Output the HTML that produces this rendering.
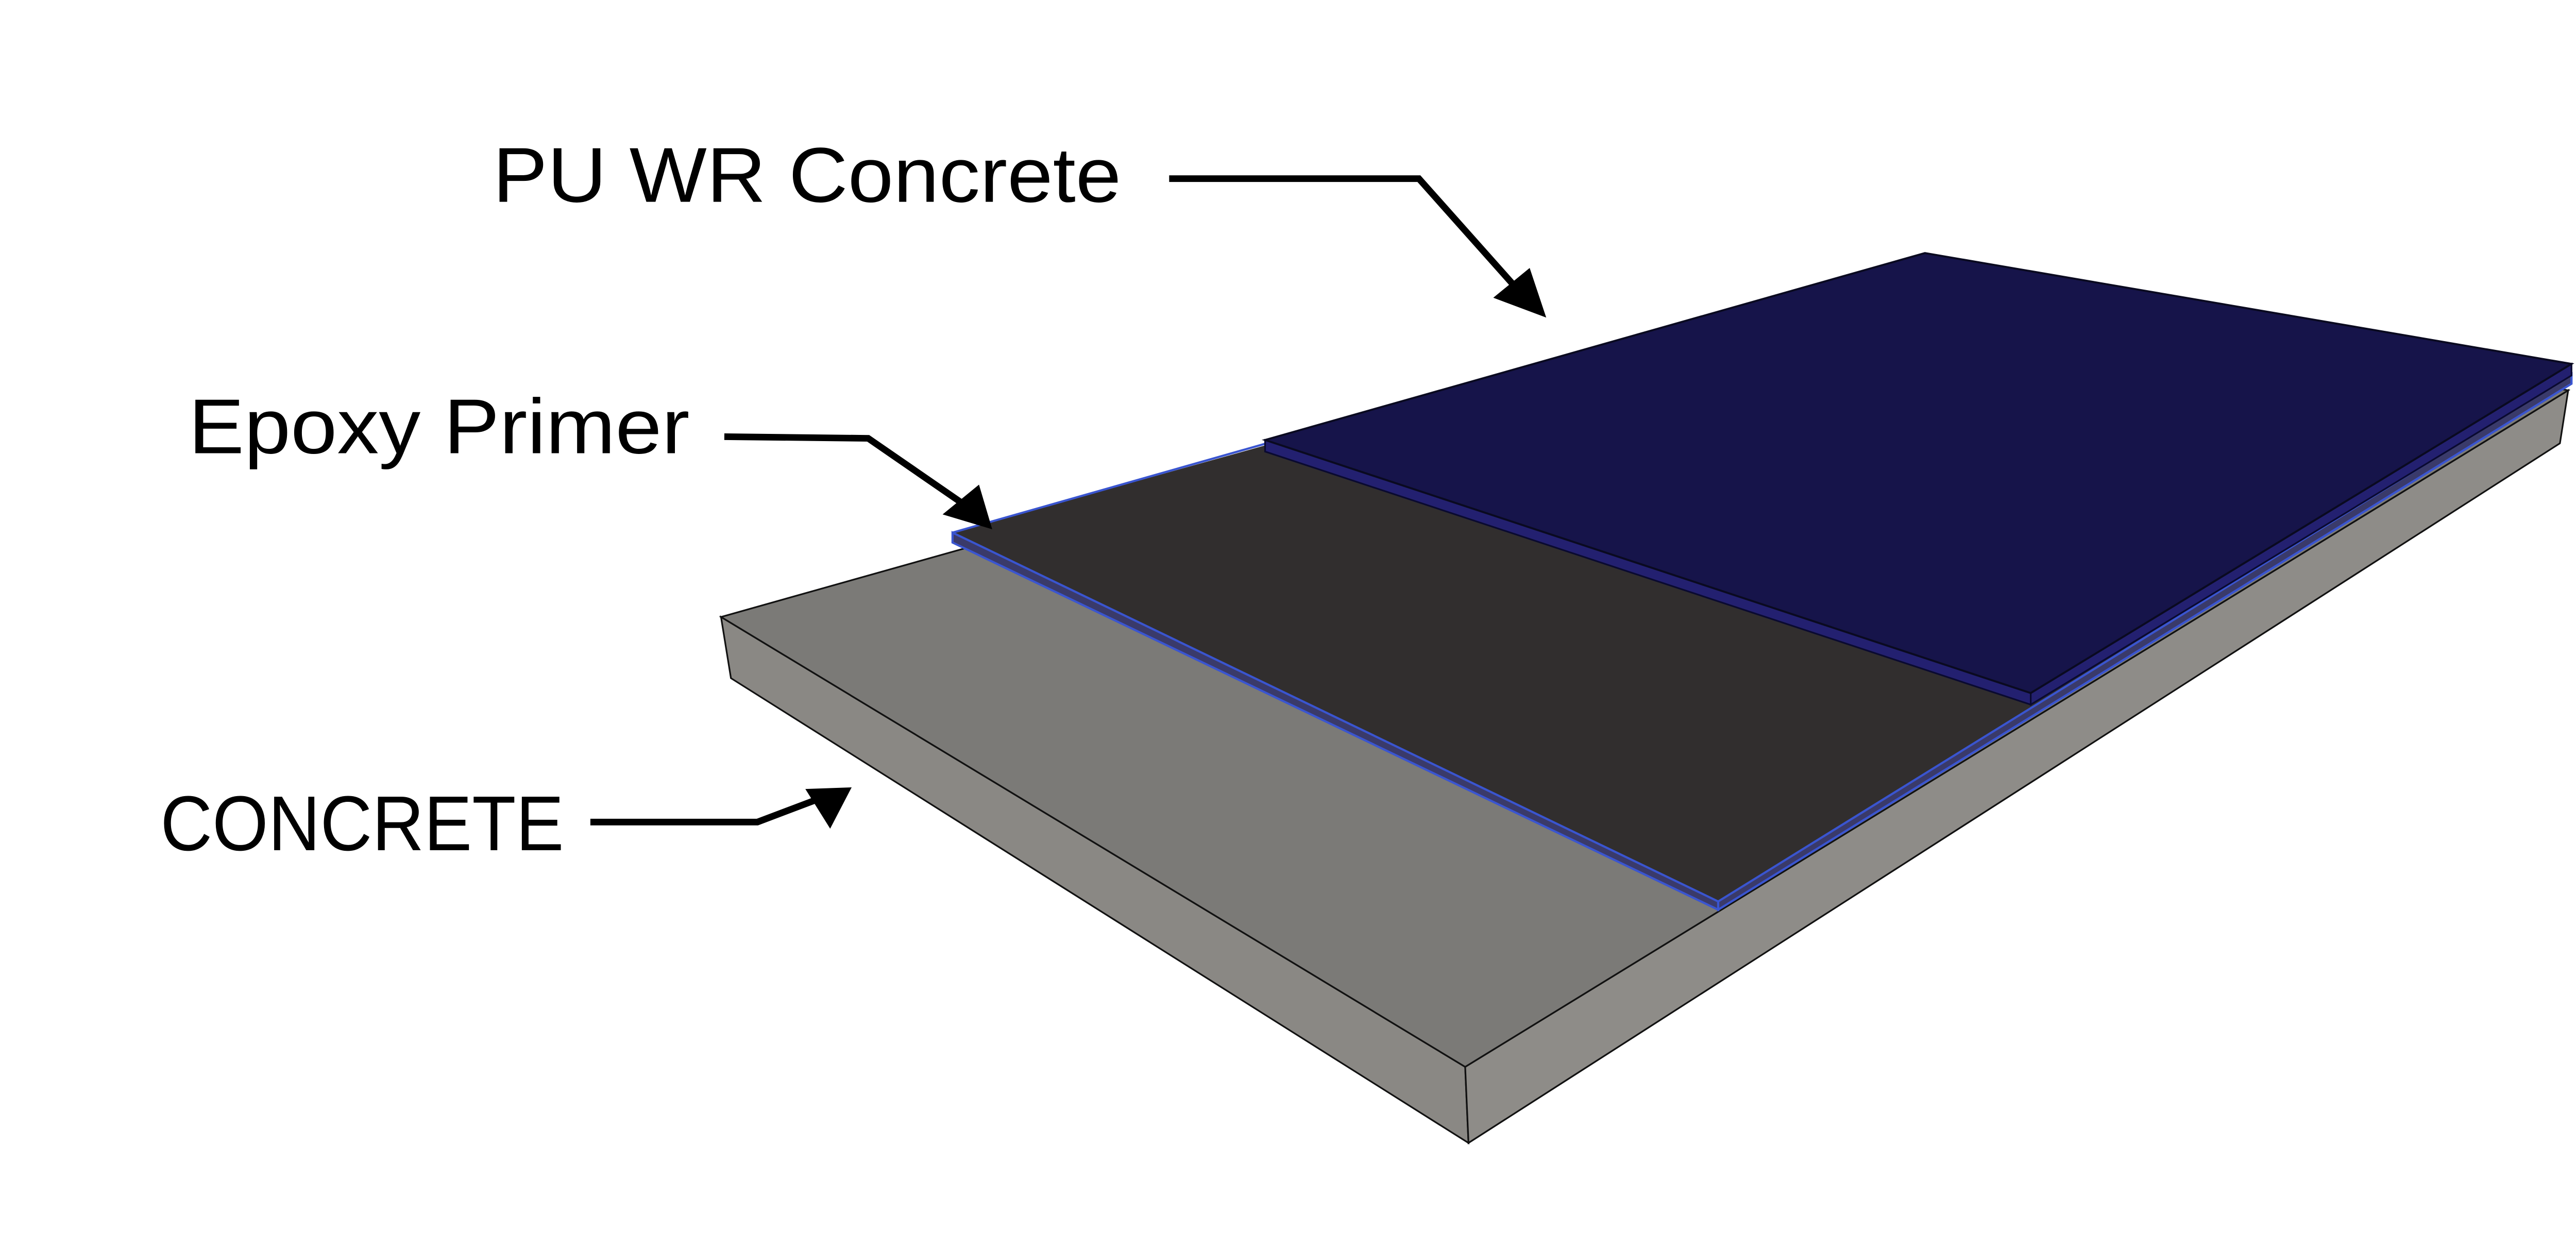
<!DOCTYPE html>
<html><head><meta charset="utf-8"><style>
html,body{margin:0;padding:0;background:#fff;}
svg{display:block;}
</style></head><body>
<svg width="5033" height="2418" viewBox="0 0 1568 753.3" preserveAspectRatio="none" xmlns="http://www.w3.org/2000/svg">
<!-- concrete slab -->
<polygon points="436,373 886,645 888,691 442,410" fill="#8a8884" stroke="#111" stroke-width="1"/>
<polygon points="886,645 1553,236 1548,268 888,691" fill="#8e8c88" stroke="#111" stroke-width="1"/>
<polygon points="436,373 1164,168 1553,236 886,645" fill="#7b7a77" stroke="#111" stroke-width="1"/>
<!-- primer -->
<polygon points="576,322 1164,158 1555,226 1039,545" fill="#312e2e"/>
<polygon points="576,322 1039,545 1039,550 576,328" fill="#3a3a6a" stroke="#3a55d0" stroke-width="1.3"/>
<polygon points="1039,545 1555,226 1555,232 1039,550" fill="#3a3a6a" stroke="#3a55d0" stroke-width="1.3"/>
<line x1="576" y1="322" x2="766" y2="268" stroke="#3a55d0" stroke-width="1.3"/>
<!-- PU -->
<polygon points="765,266 1228,419 1228,426 765,273" fill="#232070" stroke="#0a0a30" stroke-width="1"/>
<polygon points="1228,419 1555,220 1555,227 1228,426" fill="#232070" stroke="#0a0a30" stroke-width="1"/>
<polygon points="765,266 1164,153 1555,220 1228,419" fill="#16144a" stroke="#0a0a20" stroke-width="1.2"/>
<!-- labels -->
<g font-family="Liberation Sans, sans-serif" fill="#000" font-size="47">
<text x="298" y="122" textLength="380" lengthAdjust="spacingAndGlyphs">PU WR Concrete</text>
<text x="114" y="274" textLength="303" lengthAdjust="spacingAndGlyphs">Epoxy Primer</text>
<text x="97" y="514" textLength="244" lengthAdjust="spacingAndGlyphs">CONCRETE</text>
</g>
<g fill="none" stroke="#000" stroke-width="4">
<polyline points="707,108 858,108 915,172"/>
<polyline points="438,264 525,265 583,305"/>
<polyline points="357,497 458,497 495,483"/>
</g>
<g fill="#000">
<polygon points="935,192 903,180 925,162"/>
<polygon points="600,320 570,311 592,293"/>
<polygon points="515,476 487,477 502,501"/>
</g>
</svg>
</body></html>
